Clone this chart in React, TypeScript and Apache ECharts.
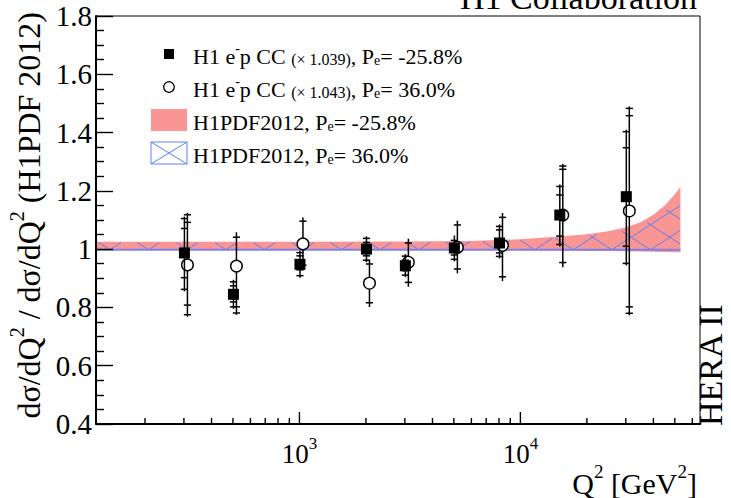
import React, { useEffect, useRef } from "react";
import * as echarts from "echarts";

const FONT = "'Liberation Serif', 'Times New Roman', Times, serif";

// ---- measured bins (Q^2 in GeV^2) ----
const q2Bins = [300, 500, 1000, 2000, 3000, 5000, 8000, 15000, 30000];

// H1 e-p CC (x 1.039), Pe = -25.8%  (filled squares)
const ratioNeg = [0.987, 0.845, 0.948, 1.0, 0.943, 1.004, 1.021, 1.117, 1.18];
const statLoNeg = [0.902, 0.819, 0.929, 0.977, 0.926, 0.98, 0.987, 1.045, 1.01];
const statHiNeg = [1.071, 0.874, 0.977, 1.023, 0.962, 1.03, 1.066, 1.186, 1.348];
const totLoNeg = [0.862, 0.802, 0.909, 0.962, 0.911, 0.965, 0.975, 1.016, 0.951];
const totHiNeg = [1.105, 0.888, 0.988, 1.037, 0.976, 1.04, 1.078, 1.215, 1.403];

// H1 e-p CC (x 1.043), Pe = 36.0%  (open circles)
const ratioPos = [0.946, 0.942, 1.018, 0.883, 0.955, 1.006, 1.013, 1.117, 1.131];
const statLoPos = [0.808, 0.802, 0.945, 0.816, 0.886, 0.932, 0.905, 0.954, 0.802];
const statHiPos = [1.092, 1.041, 1.096, 0.949, 1.021, 1.083, 1.109, 1.274, 1.458];
const totLoPos = [0.775, 0.781, 0.935, 0.808, 0.878, 0.924, 0.897, 0.945, 0.78];
const totHiPos = [1.118, 1.051, 1.102, 0.957, 1.029, 1.091, 1.117, 1.285, 1.483];

// ---- H1PDF2012 uncertainty bands ----
const bandQ2 = [120, 1000, 3000, 6000, 10000, 15000, 20000, 25000, 30000, 35000, 40000, 45000, 50000, 53000];
const redHi = [1.025, 1.025, 1.026, 1.028, 1.034, 1.043, 1.051, 1.061, 1.074, 1.092, 1.118, 1.15, 1.188, 1.213];
const redLo = [0.997, 0.997, 0.997, 0.996, 0.996, 0.995, 0.994, 0.994, 0.993, 0.992, 0.991, 0.99, 0.989, 0.989];
const blueHi = [1.023, 1.023, 1.024, 1.026, 1.031, 1.039, 1.046, 1.055, 1.066, 1.082, 1.104, 1.132, 1.166, 1.188];
const blueLo = [0.998, 0.998, 0.998, 0.998, 0.998, 0.998, 0.998, 0.998, 0.998, 0.998, 0.998, 0.998, 0.998, 0.998];

// ---- axes ----
const xRange = [120, 65000];
const yRange = [0.4, 1.8];
const yStep = 0.2;

// ---- texts ----
const legendLabels = [
  "{b|H1 e}{sup|-}{b|p CC }{sm|(× 1.039)}{b|, P}{sub|e}{b|= -25.8%}",
  "{b|H1 e}{sup|-}{b|p CC }{sm|(× 1.043)}{b|, P}{sub|e}{b|= 36.0%}",
  "{b|H1PDF2012, P}{sub|e}{b|= -25.8%}",
  "{b|H1PDF2012, P}{sub|e}{b|= 36.0%}",
];
const yTitle = "{b|dσ/dQ}{sup|2}{b| / dσ/dQ}{sup|2}{b| (H1PDF 2012)}";
const xTitle = "{b|Q}{sup|2}{b| [GeV}{sup|2}{b|]}";

const RED = "#f99592";
const BLUE = "#5f80f5";
const BLUE_LINE = "#7b82ec";

function rich(F: number, key: "fill" | "color") {
  const mk = (fs: number, lh: number, va: string) => ({
    fontSize: fs,
    fontFamily: FONT,
    lineHeight: lh,
    verticalAlign: va,
    [key]: "#000",
  });
  return {
    b: mk(F, Math.round(F * 1.2), "bottom"),
    sup: mk(Math.round(F * 0.62), Math.round(F * 0.62), "top"),
    sub: mk(Math.round(F * 0.62), Math.round(F * 0.62), "bottom"),
    sm: mk(Math.round(F * 0.74), Math.round(F * 1.02), "bottom"),
  };
}

function interpY(pts: number[][], x: number) {
  if (x <= pts[0][0]) return pts[0][1];
  for (let i = 1; i < pts.length; i++) {
    if (x <= pts[i][0]) {
      const t = (x - pts[i - 1][0]) / (pts[i][0] - pts[i - 1][0]);
      return pts[i - 1][1] + t * (pts[i][1] - pts[i - 1][1]);
    }
  }
  return pts[pts.length - 1][1];
}

function bandRender(params: any, api: any) {
  if (params.dataIndex !== 0) return null;
  const top = bandQ2.map((q, i) => api.coord([q, redHi[i]]));
  const bot = bandQ2.map((q, i) => api.coord([q, redLo[i]]));
  const bTop = bandQ2.map((q, i) => api.coord([q, blueHi[i]]));
  const bBot = bandQ2.map((q, i) => api.coord([q, blueLo[i]]));
  const children: any[] = [];
  children.push({
    type: "polygon",
    shape: { points: top.concat(bot.slice().reverse()) },
    style: { fill: RED },
  });
  // cross-hatch pattern clipped to the blue band
  const xL = bTop[0][0];
  const xR = bTop[bTop.length - 1][0];
  const period = 38.6;
  const slope = 0.646;
  const x0 = xL + 14;
  const y0 = bBot[0][1];
  const kMin = Math.floor((xL - x0 - 200) / period);
  const kMax = Math.ceil((xR - x0 + 200) / period);
  for (const dir of [1, -1]) {
    for (let k = kMin; k <= kMax; k++) {
      const xc = x0 + k * period;
      let first: number[] | null = null;
      let last: number[] | null = null;
      const flush = () => {
        if (first && last && Math.abs(last[0] - first[0]) > 0.5) {
          children.push({
            type: "line",
            shape: { x1: first[0], y1: first[1], x2: last[0], y2: last[1] },
            style: { stroke: BLUE, lineWidth: 1 },
          });
        }
        first = null;
        last = null;
      };
      for (let x = xL; x <= xR; x += 0.5) {
        const y = y0 + dir * slope * (x - xc);
        const yt = interpY(bTop, x);
        const yb = interpY(bBot, x);
        if (y >= yt && y <= yb) {
          if (!first) first = [x, y];
          last = [x, y];
        } else if (first) {
          flush();
        }
      }
      flush();
    }
  }
  children.push({
    type: "polyline",
    shape: { points: bBot },
    style: { stroke: BLUE_LINE, lineWidth: 1.8, fill: "none" },
  });
  return { type: "group", children };
}

function pointRenderer(kind: "square" | "circle", dx: number) {
  return (params: any, api: any) => {
    const q = api.value(0);
    const v = api.value(1);
    const c = api.coord([q, v]);
    const x = c[0] + dx;
    const y = c[1];
    const ys = (val: number) => api.coord([q, val])[1];
    const sLo = ys(api.value(2));
    const sHi = ys(api.value(3));
    const tLo = ys(api.value(4));
    const tHi = ys(api.value(5));
    const ls = { stroke: "#000", lineWidth: 1.5 };
    const children: any[] = [];
    children.push({ type: "line", shape: { x1: x, y1: tHi - 2, x2: x, y2: tLo + 2 }, style: ls });
    const tick = (yy: number) => ({
      type: "line",
      shape: { x1: x - 3.6, y1: yy, x2: x + 3.6, y2: yy },
      style: ls,
    });
    children.push(tick(sLo), tick(sHi));
    if (Math.abs(tLo - sLo) > 3) children.push(tick(tLo));
    if (Math.abs(tHi - sHi) > 3) children.push(tick(tHi));
    if (kind === "square") {
      children.push({
        type: "rect",
        shape: { x: x - 5.5, y: y - 5.5, width: 11, height: 11 },
        style: { fill: "#000" },
      });
    } else {
      children.push({
        type: "circle",
        shape: { cx: x, cy: y, r: 5.8 },
        style: { fill: "#fff", stroke: "#000", lineWidth: 1.4 },
      });
    }
    return { type: "group", children };
  };
}

function xTickValues() {
  const out: number[] = [];
  for (let k = 2; k <= 4; k++) {
    for (let m = 1; m <= 9; m++) {
      const v = m * Math.pow(10, k);
      if (v > xRange[0] && v < xRange[1]) out.push(v);
    }
  }
  return out;
}

function tickRender(params: any, api: any) {
  const v = api.value(0);
  const p = api.coord([v, yRange[0]]);
  const e = Math.log10(v);
  const major = Math.abs(e - Math.round(e)) < 1e-9;
  const len = major ? 12 : 6;
  return {
    type: "line",
    shape: { x1: p[0], y1: p[1], x2: p[0], y2: p[1] - len },
    style: { stroke: "#000", lineWidth: 1.4 },
  };
}

function buildOption() {
  const negData = q2Bins.map((q, i) => [q, ratioNeg[i], statLoNeg[i], statHiNeg[i], totLoNeg[i], totHiNeg[i]]);
  const posData = q2Bins.map((q, i) => [q, ratioPos[i], statLoPos[i], statHiPos[i], totLoPos[i], totHiPos[i]]);

  const legX = 151;
  const legTextX = 193;
  const rowY = [54, 87, 120, 153];
  const LF = 22;
  const graphic: any[] = [
    { type: "rect", shape: { x: 164, y: rowY[0] - 5, width: 10, height: 10 }, style: { fill: "#000" } },
    { type: "circle", shape: { cx: 169, cy: rowY[1], r: 5.3 }, style: { fill: "#fff", stroke: "#000", lineWidth: 1.2 } },
    { type: "rect", shape: { x: legX, y: rowY[2] - 11, width: 36, height: 22 }, style: { fill: RED } },
    { type: "rect", shape: { x: legX, y: rowY[3] - 11, width: 36, height: 22 }, style: { fill: "none", stroke: BLUE, lineWidth: 1 } },
    { type: "line", shape: { x1: legX, y1: rowY[3] - 11, x2: legX + 36, y2: rowY[3] + 11 }, style: { stroke: BLUE, lineWidth: 1 } },
    { type: "line", shape: { x1: legX, y1: rowY[3] + 11, x2: legX + 36, y2: rowY[3] - 11 }, style: { stroke: BLUE, lineWidth: 1 } },
  ];
  legendLabels.forEach((t, i) => {
    graphic.push({
      type: "text",
      x: legTextX,
      y: rowY[i],
      style: {
        text: t,
        rich: rich(LF, "fill"),
        fontFamily: FONT,
        fontSize: LF,
        fill: "#000",
        align: "left",
        textAlign: "left",
        verticalAlign: "middle",
        textVerticalAlign: "middle",
      },
    });
  });
  // y-axis title (rotated)
  graphic.push({
    type: "text",
    x: 26,
    y: 12,
    rotation: Math.PI / 2,
    style: {
      text: yTitle,
      rich: rich(32, "fill"),
      fontFamily: FONT,
      fontSize: 32,
      fill: "#000",
      align: "right",
      textAlign: "right",
      verticalAlign: "middle",
      textVerticalAlign: "middle",
    },
  });
  // x-axis title
  graphic.push({
    type: "text",
    x: 697,
    y: 480,
    style: {
      text: xTitle,
      rich: rich(30, "fill"),
      fontFamily: FONT,
      fontSize: 30,
      fill: "#000",
      align: "right",
      textAlign: "right",
      verticalAlign: "middle",
      textVerticalAlign: "middle",
    },
  });
  // H1 Collaboration (cut by the top edge, as in the original)
  graphic.push({
    type: "text",
    x: 697,
    y: -3,
    style: {
      text: "H1 Collaboration",
      fontFamily: FONT,
      fontSize: 34,
      fill: "#000",
      align: "right",
      textAlign: "right",
      verticalAlign: "middle",
      textVerticalAlign: "middle",
    },
  });
  // HERA II
  graphic.push({
    type: "text",
    x: 710,
    y: 426,
    rotation: Math.PI / 2,
    style: {
      text: "HERA II",
      fontFamily: FONT,
      fontSize: 34,
      fill: "#000",
      align: "left",
      textAlign: "left",
      verticalAlign: "middle",
      textVerticalAlign: "middle",
    },
  });

  return {
    animation: false,
    backgroundColor: "#fff",
    grid: {
      left: 96,
      right: 31,
      top: 16,
      bottom: 74,
      show: true,
      borderColor: "#000",
      borderWidth: 1,
      backgroundColor: "transparent",
    },
    xAxis: {
      type: "log",
      logBase: 10,
      min: xRange[0],
      max: xRange[1],
      z: 5,
      axisLine: { show: true, lineStyle: { color: "#000", width: 2 } },
      axisTick: { show: false },
      splitLine: { show: false },
      minorTick: { show: false },
      axisLabel: {
        showMinLabel: false,
        showMaxLabel: false,
        margin: 11,
        color: "#000",
        fontFamily: FONT,
        fontSize: 27,
        rich: rich(27, "color"),
        formatter: (v: number) => {
          const e = Math.round(Math.log10(v));
          if (Math.abs(v - Math.pow(10, e)) > 1e-6 * v) return "";
          return `{b|10}{sup|${e}}`;
        },
      },
    },
    yAxis: {
      type: "value",
      min: yRange[0],
      max: yRange[1],
      interval: yStep,
      z: 5,
      axisLine: { show: true, lineStyle: { color: "#000", width: 2 } },
      axisTick: { show: true, inside: true, length: 17, lineStyle: { color: "#000", width: 1.4 } },
      minorTick: { show: true, splitNumber: 4, length: 8, lineStyle: { color: "#000", width: 1.4 } },
      splitLine: { show: false },
      axisLabel: { color: "#000", fontFamily: FONT, fontSize: 29, margin: 4 },
    },
    series: [
      {
        type: "custom",
        name: "bands",
        silent: true,
        z: 2,
        data: [[bandQ2[0], 1]],
        encode: { x: 0, y: 1 },
        renderItem: bandRender,
      },
      {
        type: "custom",
        name: "xticks",
        silent: true,
        z: 6,
        data: xTickValues().map((v) => [v, yRange[0]]),
        encode: { x: 0, y: 1 },
        renderItem: tickRender,
      },
      {
        type: "custom",
        name: "H1 e-p CC Pe=36.0%",
        silent: true,
        z: 3,
        data: posData,
        encode: { x: 0, y: 1 },
        renderItem: pointRenderer("circle", 3.5),
      },
      {
        type: "custom",
        name: "H1 e-p CC Pe=-25.8%",
        silent: true,
        z: 4,
        data: negData,
        encode: { x: 0, y: 1 },
        renderItem: pointRenderer("square", 0.5),
      },
    ],
    graphic,
  };
}

export default function App() {
  const ref = useRef<HTMLDivElement>(null);
  useEffect(() => {
    document.body.style.margin = "0";
    const chart = echarts.init(ref.current as HTMLDivElement, null, { renderer: "svg" });
    chart.setOption(buildOption() as any);
    return () => chart.dispose();
  }, []);
  return <div ref={ref} style={{ width: 731, height: 498 }} />;
}
